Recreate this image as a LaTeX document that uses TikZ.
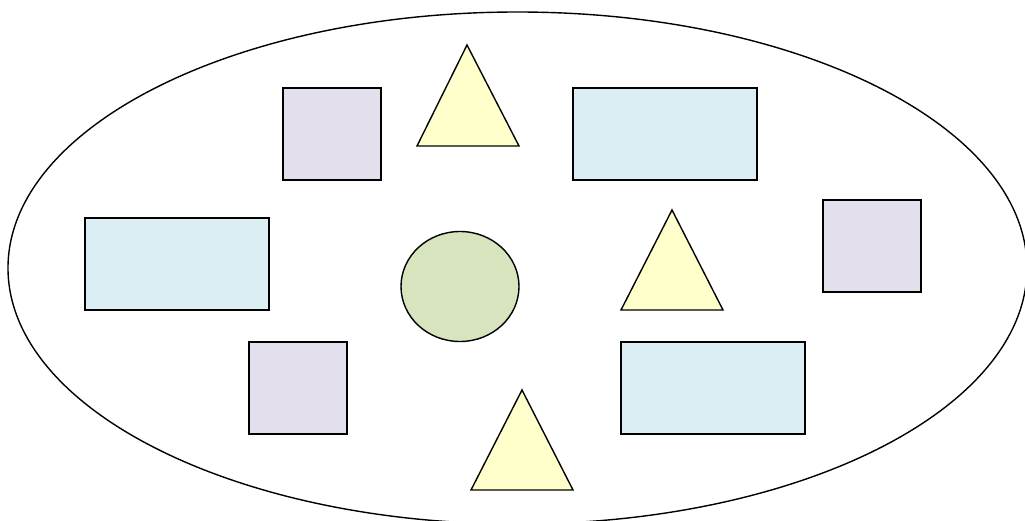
\documentclass[tikz,border=0pt]{standalone}
\definecolor{lilac}{HTML}{E4DFEC}
\definecolor{paleblue}{HTML}{DAEEF3}
\definecolor{paleyellow}{HTML}{FFFFCC}
\definecolor{palegreen}{HTML}{D7E4BD}
\tikzset{
  outl/.style={draw=black, line width=1.4pt, line join=miter},
  sq/.style={outl, fill=lilac},
  bl/.style={outl, fill=paleblue},
  tri/.style={outl, fill=paleyellow},
  circ/.style={outl, fill=palegreen},
}
\begin{document}
\begin{tikzpicture}[x=1pt,y=-1pt]
\useasboundingbox (0,0) rectangle (1025,521);
\begin{scope}
\clip (0,0) rectangle (1025,521);
\fill[white] (0,0) rectangle (1025,521);
\draw[line width=1.4pt] (517.5,268) ellipse [x radius=509.5, y radius=256];
\end{scope}
% squares
\draw[sq] (283,88) rectangle (381,180);
\draw[sq] (823,200) rectangle (921,292);
\draw[sq] (249,342) rectangle (347,434);
% rectangles
\draw[bl] (573,88) rectangle (757,180);
\draw[bl] (85,218) rectangle (269,310);
\draw[bl] (621,342) rectangle (805,434);
% triangles
\draw[tri] (467,45) -- (519,146) -- (417,146) -- cycle;
\draw[tri] (672,210) -- (723,310) -- (621,310) -- cycle;
\draw[tri] (522,390) -- (573,490) -- (471,490) -- cycle;
% circle
\draw[circ] (460,286.5) ellipse [x radius=59, y radius=55];
\end{tikzpicture}
\end{document}
